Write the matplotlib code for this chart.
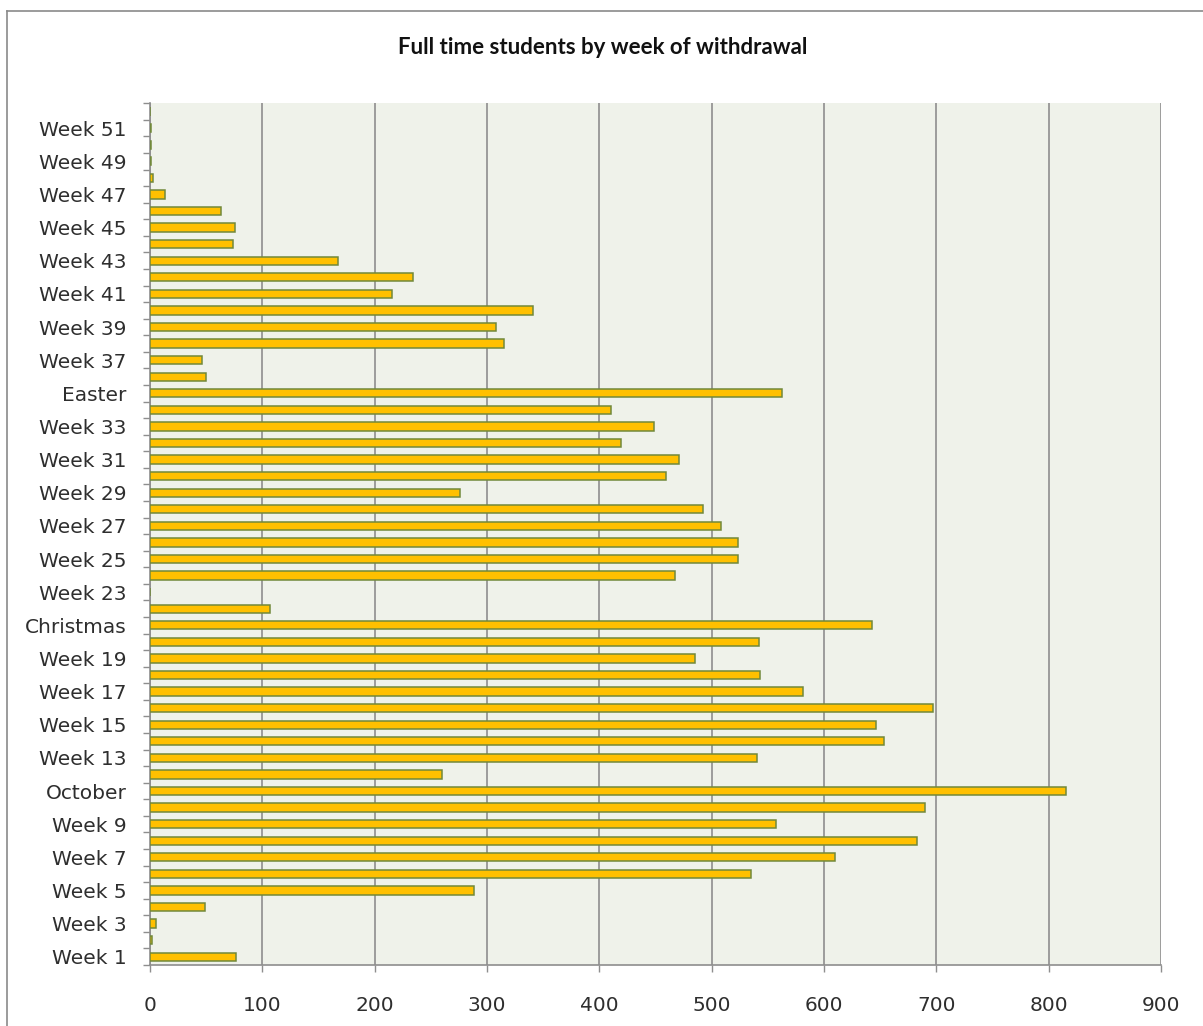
import numpy as np
import matplotlib
matplotlib.use("Agg")
import matplotlib.pyplot as plt
from matplotlib.lines import Line2D

plt.rcParams['font.family'] = ['DejaVu Sans']

# Withdrawals per week (weeks 1..52), read in chart order bottom to top
weeks = ["Week %d" % w for w in range(1, 53)]
weeks[10] = "October"
weeks[20] = "Christmas"
weeks[34] = "Easter"

withdrawals = [77, 2, 5, 49, 288, 535, 610, 683, 557, 690,
               815, 260, 540, 653, 646, 697, 581, 543, 485, 542,
               643, 107, 0, 467, 523, 523, 508, 492, 276, 459,
               471, 419, 449, 410, 563, 50, 46, 315, 308, 341,
               215, 234, 167, 74, 76, 63, 13, 3, 1, 1,
               1, 0]

xticks = list(range(0, 1000, 100))

fig = plt.figure(figsize=(12.03, 10.26), dpi=100)
ax = fig.add_axes([150 / 1203, 1 - 965 / 1026, (1161 - 150) / 1203, (965 - 103.3) / 1026])

ypos = np.arange(len(weeks))
ax.barh(ypos, withdrawals, height=0.5, color="#FFC000", edgecolor="#71893A",
        linewidth=1.1, zorder=3)

ax.set_facecolor("#EFF2EA")
ax.set_xlim(0, 900)
ax.set_ylim(-0.5, len(weeks) - 0.5)

# vertical gridlines
ax.set_xticks(xticks)
ax.xaxis.grid(True, color="#8E8E8E", linewidth=1.2, zorder=1)
ax.set_axisbelow(True)
ax.tick_params(axis="x", length=5, width=1, color="#8E8E8E", pad=17,
               labelsize=14.5, labelcolor="#2E2E2E")

# labels on every other category, tick marks on category boundaries
ax.set_yticks(ypos[::2])
ax.set_yticklabels(weeks[::2])
ax.set_yticks(np.arange(-0.5, len(weeks), 1), minor=True)
ax.tick_params(axis="y", which="major", length=0, pad=17, labelsize=14.5,
               labelcolor="#2E2E2E")
ax.tick_params(axis="y", which="minor", length=5, width=1, color="#8E8E8E")

for s in ["top", "right"]:
    ax.spines[s].set_visible(False)
for s in ["left", "bottom"]:
    ax.spines[s].set_color("#8E8E8E")
    ax.spines[s].set_linewidth(1.2)

fig.text(603 / 1203, 1 - 48 / 1026, "Full time students by week of withdrawal",
         ha="center", va="center", fontsize=16, fontweight="bold",
         family="Lato", color="#111111")

# chart frame
fig.add_artist(Line2D([7 / 1203, 7 / 1203], [0, 1 - 11 / 1026], color="#8A8A8A", linewidth=1.2))
fig.add_artist(Line2D([7 / 1203, 1], [1 - 11 / 1026, 1 - 11 / 1026], color="#8A8A8A", linewidth=1.2))

fig.savefig("out.png", dpi=100)
